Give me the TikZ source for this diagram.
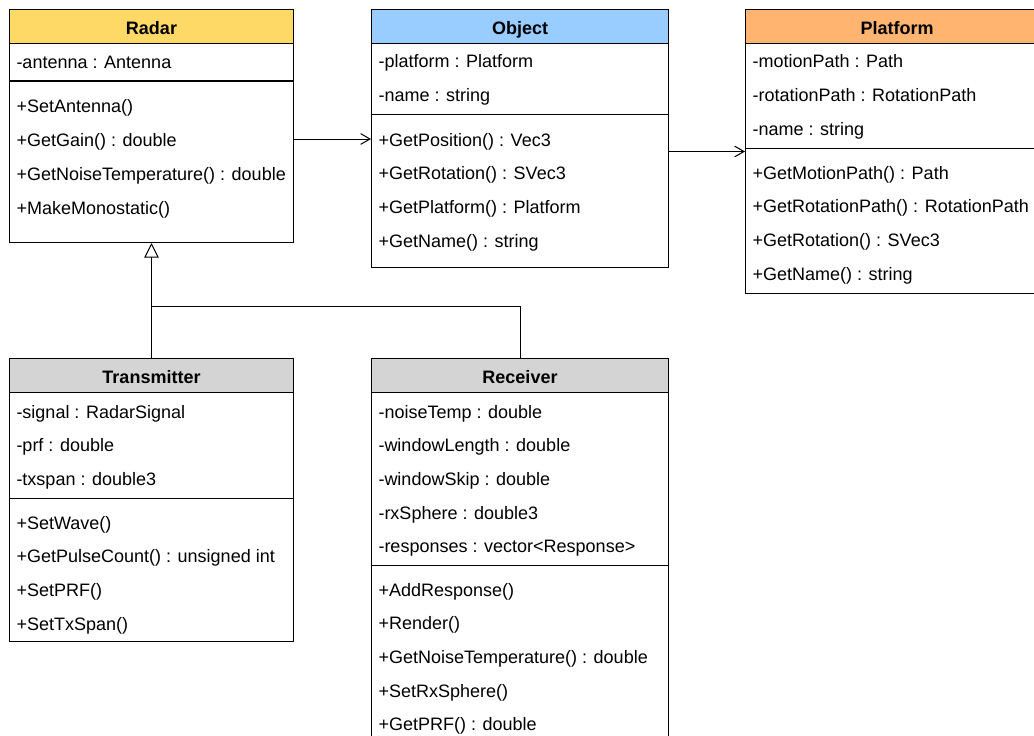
\documentclass[tikz,border=0pt]{standalone}
\usepackage{fontspec}
\setmainfont{Liberation Sans}
\usetikzlibrary{arrows.meta}
\definecolor{radarY}{HTML}{FFD966}
\definecolor{objB}{HTML}{99CCFF}
\definecolor{platO}{HTML}{FFB570}
\definecolor{grayH}{HTML}{D4D4D4}
\begin{document}
\begin{tikzpicture}[x=0.75pt,y=-0.75pt, line width=0.75pt,
  cls/.style={draw, anchor=north west, inner sep=0, fill=white},
  hdr/.style={draw, anchor=north west, inner sep=0, text height=12.67pt, text depth=0pt,
    minimum height=25.3pt, font=\fontsize{13.5}{16}\selectfont\bfseries},
  item/.style={anchor=base west, inner sep=0, font=\fontsize{13.5}{16}\selectfont},
  assoc/.style={-{Straight Barb[length=7pt,width=8pt]}},
  gen/.style={-{Triangle[open,fill=white,length=11pt,width=11pt]}}]
\useasboundingbox (0,0) rectangle (1034,735);
\clip (0,0) rectangle (1034,735);

% Radar
\node[cls, minimum width={284*0.75pt}, minimum height={233*0.75pt}] (radar) at (9,9) {};
\node[hdr, fill=radarY, minimum width={284*0.75pt}] (radarh) at (9,9) {Radar};
\draw (radar.west |- 0,81) -- (radar.east |- 0,81);
\node[item] (ra1) at (16,69) {-antenna : Antenna};
\node[item] (rm1) at (16,113) {+SetAntenna()};
\node[item] (rm2) at (16,146.7) {+GetGain() : double};
\node[item] (rm3) at (16,180.4) {+GetNoiseTemperature() : double};
\node[item] (rm4) at (16,214.1) {+MakeMonostatic()};

% Object
\node[cls, minimum width={297*0.75pt}, minimum height={258*0.75pt}] (object) at (371,9) {};
\node[hdr, fill=objB, minimum width={297*0.75pt}] (objecth) at (371,9) {Object};
\draw (object.west |- 0,114) -- (object.east |- 0,114);
\node[item] (oa1) at (378,68) {-platform : Platform};
\node[item] (oa2) at (378,101.7) {-name : string};
\node[item] (om1) at (378,146) {+GetPosition() : Vec3};
\node[item] (om2) at (378,179.7) {+GetRotation() : SVec3};
\node[item] (om3) at (378,213.4) {+GetPlatform() : Platform};
\node[item] (om4) at (378,247.1) {+GetName() : string};

% Platform
\node[cls, minimum width={300*0.75pt}, minimum height={284*0.75pt}] (platform) at (745,9) {};
\node[hdr, fill=platO, minimum width={300*0.75pt}, text width={290*0.75pt}, align=left] (platformh) at (745,9) {\hspace*{82.5pt}Platform};
\draw (platform.west |- 0,148) -- (platform.east |- 0,148);
\node[item] (pa1) at (752,68) {-motionPath : Path};
\node[item] (pa2) at (752,101.7) {-rotationPath : RotationPath};
\node[item] (pa3) at (752,135.4) {-name : string};
\node[item] (pm1) at (752,179) {+GetMotionPath() : Path};
\node[item] (pm2) at (752,212.7) {+GetRotationPath() : RotationPath};
\node[item] (pm3) at (752,246.4) {+GetRotation() : SVec3};
\node[item] (pm4) at (752,280.1) {+GetName() : string};

% Transmitter
\node[cls, minimum width={284*0.75pt}, minimum height={283*0.75pt}] (trans) at (9,358) {};
\node[hdr, fill=grayH, minimum width={284*0.75pt}] (transh) at (9,358) {Transmitter};
\draw (trans.west |- 0,498) -- (trans.east |- 0,498);
\node[item] (ta1) at (16,418) {-signal : RadarSignal};
\node[item] (ta2) at (16,451.7) {-prf : double};
\node[item] (ta3) at (16,485.4) {-txspan : double3};
\node[item] (tm1) at (16,529) {+SetWave()};
\node[item] (tm2) at (16,562.7) {+GetPulseCount() : unsigned int};
\node[item] (tm3) at (16,596.4) {+SetPRF()};
\node[item] (tm4) at (16,630.1) {+SetTxSpan()};

% Receiver
\node[cls, minimum width={297*0.75pt}, minimum height={400*0.75pt}] (recv) at (371,358) {};
\node[hdr, fill=grayH, minimum width={297*0.75pt}] (recvh) at (371,358) {Receiver};
\draw (recv.west |- 0,565) -- (recv.east |- 0,565);
\node[item] (va1) at (378,418) {-noiseTemp : double};
\node[item] (va2) at (378,451.7) {-windowLength : double};
\node[item] (va3) at (378,485.4) {-windowSkip : double};
\node[item] (va4) at (378,519.1) {-rxSphere : double3};
\node[item] (va5) at (378,552.8) {-responses : vector<Response>};
\node[item] (vm1) at (378,596) {+AddResponse()};
\node[item] (vm2) at (378,629.7) {+Render()};
\node[item] (vm3) at (378,663.4) {+GetNoiseTemperature() : double};
\node[item] (vm4) at (378,697.1) {+SetRxSphere()};
\node[item] (vm5) at (378,730.8) {+GetPRF() : double};

% connectors
\draw[assoc] (radar.east |- 0,139) -- (object.west |- 0,139);
\draw[assoc] (object.east |- 0,151.5) -- (platform.west |- 0,151.5);
\coordinate (junc) at (radar.south |- 0,306.5);
\draw (recvh.north) |- (junc);
\draw[gen] (transh.north) -- (radar.south);
\end{tikzpicture}
\end{document}
